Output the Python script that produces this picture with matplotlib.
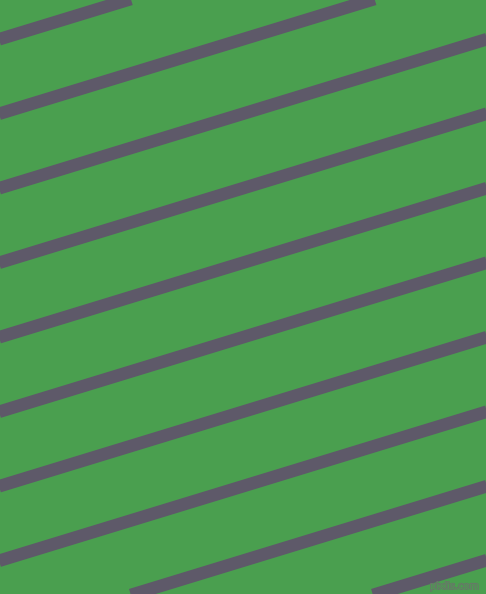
import matplotlib
matplotlib.use("Agg")
import matplotlib.pyplot as plt
import matplotlib.patheffects as pe
import numpy as np

# Stripe data: y-intercept (at x = 0) of each stripe centre line, in pixels
stripe_intercepts = [-110.0, -35.5, 39.0, 113.5, 188.0, 262.5, 337.0, 411.5, 486.0, 560.5, 635.0, 709.0, 784.0]
stripe_slope = -0.3057          # rise per pixel (stripes go up to the right)

background_color = "#4A9F4F"
stripe_color = "#5E5969"
watermark_text = "pixlis.com"

W, H, DPI = 486, 594, 100
fig = plt.figure(figsize=(W / DPI, H / DPI), dpi=DPI)
fig.patch.set_facecolor(background_color)
ax = fig.add_axes([0, 0, 1, 1])
ax.set_facecolor(background_color)
ax.set_xlim(0, W)
ax.set_ylim(H, 0)
ax.axis("off")

stripe_px = 12.6
lw = stripe_px * 72 / DPI
xs = np.array([-20, W + 20], dtype=float)
for b in stripe_intercepts:
    ys = b + stripe_slope * xs
    ax.plot(xs, ys, color=stripe_color, lw=lw, solid_capstyle="butt", zorder=2)

ax.text(479, 589, watermark_text, ha="right", va="baseline", fontsize=7,
        color=background_color, family="DejaVu Sans", zorder=5,
        path_effects=[pe.withStroke(linewidth=1.0, foreground="#6e6e6e")])

fig.savefig("out.png", dpi=DPI, facecolor=background_color)
